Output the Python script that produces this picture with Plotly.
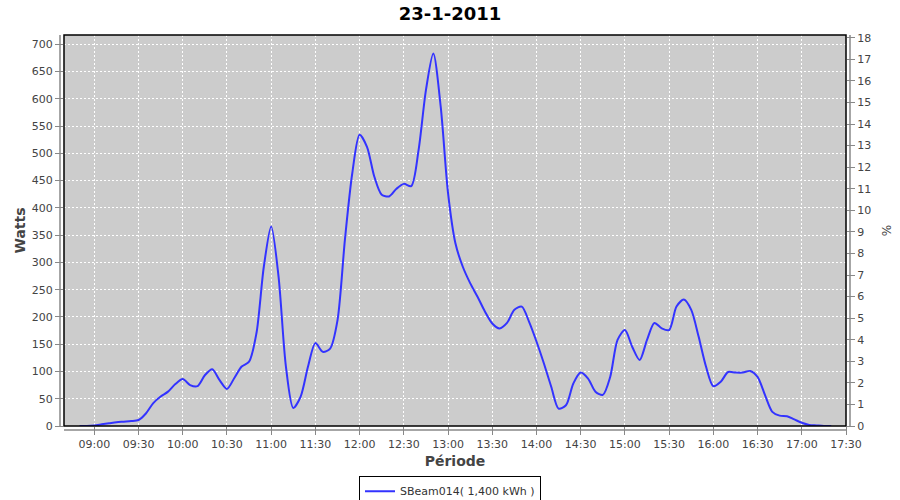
import plotly.graph_objects as go

day = "2011-01-23"
times = ["08:50", "08:55", "09:00", "09:05", "09:10", "09:15", "09:20", "09:25", "09:30", "09:35",
         "09:40", "09:45", "09:50", "09:55", "10:00", "10:05", "10:10", "10:15", "10:20", "10:25",
         "10:30", "10:35", "10:40", "10:45", "10:50", "10:55", "11:00", "11:05", "11:10", "11:15",
         "11:20", "11:25", "11:30", "11:35", "11:40", "11:45", "11:50", "11:55", "12:00", "12:05",
         "12:10", "12:15", "12:20", "12:25", "12:30", "12:35", "12:40", "12:45", "12:50", "12:55",
         "13:00", "13:05", "13:10", "13:15", "13:20", "13:25", "13:30", "13:35", "13:40", "13:45",
         "13:50", "13:55", "14:00", "14:05", "14:10", "14:15", "14:20", "14:25", "14:30", "14:35",
         "14:40", "14:45", "14:50", "14:55", "15:00", "15:05", "15:10", "15:15", "15:20", "15:25",
         "15:30", "15:35", "15:40", "15:45", "15:50", "15:55", "16:00", "16:05", "16:10", "16:15",
         "16:20", "16:25", "16:30", "16:35", "16:40", "16:45", "16:50", "16:55", "17:00", "17:05",
         "17:10", "17:15", "17:20"]
watts = [0, 0, 1, 3, 5, 7, 8, 9, 11, 23,
         42, 54, 63, 77, 86, 75, 73, 93, 104, 84,
         68, 88, 109, 118, 170, 292, 366, 274, 109, 33,
         54, 109, 152, 136, 142, 194, 341, 463, 534, 512,
         457, 424, 421, 435, 444, 440, 506, 616, 683, 586,
         427, 335, 292, 262, 237, 210, 188, 179, 189, 213,
         219, 191, 155, 115, 72, 32, 38, 78, 98, 87,
         63, 57, 90, 158, 176, 145, 121, 158, 189, 179,
         176, 219, 232, 213, 164, 109, 73, 81, 99, 98,
         98, 101, 90, 57, 26, 19, 18, 12, 6, 2,
         1, 0, 0]
x_ticks = ["09:00", "09:30", "10:00", "10:30", "11:00", "11:30", "12:00", "12:30", "13:00",
           "13:30", "14:00", "14:30", "15:00", "15:30", "16:00", "16:30", "17:00", "17:30"]
series_name = "SBeam014( 1,400 kWh )"

xs = [f"{day} {t}" for t in times]

fig = go.Figure()
fig.add_trace(go.Scatter(
    x=xs, y=watts, mode="lines", name=series_name,
    line=dict(color="#3333FF", width=2, shape="spline", smoothing=0.8),
))
fig.add_trace(go.Scatter(x=[xs[0]], y=[None], yaxis="y2", showlegend=False,
                         hoverinfo="skip", mode="lines"))

tick_font = dict(family="DejaVu Sans", size=11, color="#444444")
axis_title_font = dict(family="DejaVu Sans", size=14, color="#444444")

fig.update_layout(
    width=900, height=500,
    paper_bgcolor="white", plot_bgcolor="#CCCCCC",
    margin=dict(l=64, r=54, t=35, b=74, autoexpand=False),
    title=dict(text="<b>23-1-2011</b>", x=0.5, xanchor="center", y=0.972, yanchor="middle",
               font=dict(family="DejaVu Sans", size=18, color="black")),
    xaxis=dict(
        type="date", automargin=False,
        range=[f"{day} 08:39:26", f"{day} 17:30:00"],
        tickmode="array",
        tickvals=[f"{day} {t}" for t in x_ticks],
        ticktext=x_ticks,
        ticks="outside", ticklen=8, tickcolor="#888888",
        tickfont=tick_font,
        showgrid=True, gridcolor="white", griddash="2px,2px", gridwidth=1,
        zeroline=False, showline=False,
        title=dict(text="<b>Période</b>", font=axis_title_font, standoff=5),
    ),
    yaxis=dict(
        range=[0, 717], dtick=50, tick0=0, automargin=False,
        ticks="outside", ticklen=8, tickcolor="#888888",
        tickfont=tick_font,
        showgrid=True, gridcolor="white", griddash="2px,2px", gridwidth=1,
        zeroline=False, showline=False,
        title=dict(text="<b>Watts</b>", font=axis_title_font, standoff=2),
    ),
    yaxis2=dict(
        overlaying="y", side="right", automargin=False,
        range=[0, 18.13], dtick=1, tick0=0,
        ticks="outside", ticklen=8, tickcolor="#888888",
        tickfont=tick_font,
        showgrid=False, zeroline=False, showline=False,
        title=dict(text="%", font=dict(family="DejaVu Sans", size=12, color="#444444"), standoff=12),
    ),
    legend=dict(
        orientation="h", x=0.4936, xanchor="center", y=-0.127, yanchor="top",
        bordercolor="black", borderwidth=1, bgcolor="white",
        font=dict(family="DejaVu Sans", size=11, color="#333333"),
        itemwidth=30,
    ),
    showlegend=True,
)

# plot-area border and offset axis lines
fig.add_shape(type="rect", xref="paper", yref="paper", x0=0, y0=0, x1=1, y1=1,
              line=dict(color="black", width=1.5), layer="above")
fig.add_shape(type="line", xref="paper", yref="paper", x0=-4/782, x1=-4/782, y0=0, y1=1,
              line=dict(color="#888888", width=1.5))
fig.add_shape(type="line", xref="paper", yref="paper", x0=1 + 4/782, x1=1 + 4/782, y0=0, y1=1,
              line=dict(color="#888888", width=1.5))
fig.add_shape(type="line", xref="paper", yref="paper", x0=0, x1=1, y0=-4/391, y1=-4/391,
              line=dict(color="#888888", width=1.5))

fig.write_html("out.html", config={"displayModeBar": False},
               post_script="document.body.style.margin='0';document.body.style.padding='0';")
